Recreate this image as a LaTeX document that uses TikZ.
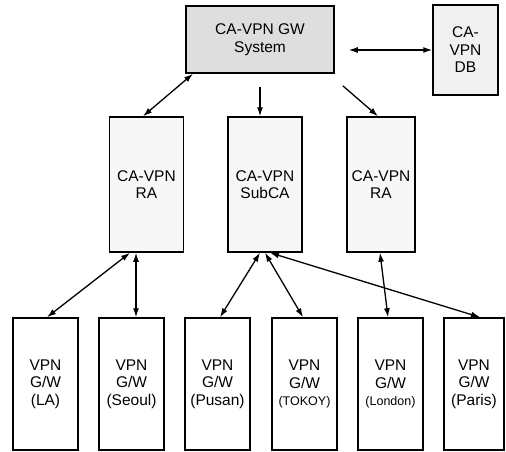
\documentclass[tikz,border=0pt]{standalone}
\usepackage{fontspec}
\setmainfont{Liberation Sans}
\usetikzlibrary{calc,arrows.meta}
\newcommand{\smalllabel}[1]{{\fontsize{12.5}{17.5}\selectfont #1}}
\begin{document}
\begin{tikzpicture}[x=1pt,y=-1pt,
  box/.style={draw=black, line width=1.5pt, inner sep=0pt, align=center,
    font=\fontsize{15.5}{17.5}\selectfont},
  midbox/.style={box, fill=black!3, minimum width=74pt, minimum height=135pt},
  gwbox/.style={box, fill=white, minimum width=65pt, minimum height=132pt},
  tip/.tip={Latex[length=9pt,width=6pt]},
  link/.style={line width=1.3pt, -tip},
  both/.style={line width=1.3pt, tip-tip}]
\useasboundingbox (0,0) rectangle (506,452);

% management layer
\node[box, fill=black!13, minimum width=148pt, minimum height=67pt] (gw) at (260,39.5) {CA-VPN GW\\System};
\node[box, fill=black!6, minimum width=65pt, minimum height=90pt] (db) at (465.5,50) {CA-\\VPN\\DB};

% registration / certification layer
\node[midbox] (ra1) at (146.5,184.5) {CA-VPN\\RA};
\node[midbox] (subca) at (265,184.5) {CA-VPN\\SubCA};
\node[midbox, minimum width=68pt] (ra2) at (381,184.5) {CA-VPN\\RA};

% gateways
\node[gwbox] (la) at (45.5,384) {VPN\\G/W\\(LA)};
\node[gwbox] (seoul) at (131.5,384) {VPN\\G/W\\(Seoul)};
\node[gwbox] (pusan) at (217.5,384) {VPN\\G/W\\(Pusan)};
\node[gwbox] (tokoy) at (304.5,384) {VPN\\G/W\\\smalllabel{(TOKOY)}};
\node[gwbox] (london) at (390.5,384) {VPN\\G/W\\\smalllabel{(London)}};
\node[gwbox, minimum width=60pt] (paris) at (474,384) {VPN\\G/W\\(Paris)};

% free ends of the one-way arrows
\coordinate (gwdown) at ($(gw.south)+(0,13)$);
\coordinate (gwright) at ($(gw.south east)+(8,12)$);
\coordinate (gwdb) at ($(gw.east |- db.west)+(14,0)$);

% upper connectors
\draw[both] (gwdb) -- (db.west);
\draw[both] ([xshift=-67pt]gw.south) -- ([xshift=-3.5pt]ra1.north);
\draw[link] (gwdown) -- ([xshift=-5pt]subca.north);
\draw[link] (gwright) -- ([xshift=-3pt]ra2.north);

% lower connectors
\draw[both] ([xshift=-16.5pt]ra1.south) -- ([xshift=1.5pt]la.north);
\draw[both] ([xshift=-10.5pt]ra1.south) -- ([xshift=4.5pt]seoul.north);
\draw[both] ([xshift=-5pt]subca.south) -- ([xshift=2.5pt]pusan.north);
\draw[both] (subca.south) -- ([xshift=-1.5pt]tokoy.north);
\draw[both] ([xshift=5pt]subca.south) -- ([xshift=6pt]paris.north);
\draw[both] ([xshift=-1pt]ra2.south) -- ([xshift=-2.5pt]london.north);
\end{tikzpicture}
\end{document}
